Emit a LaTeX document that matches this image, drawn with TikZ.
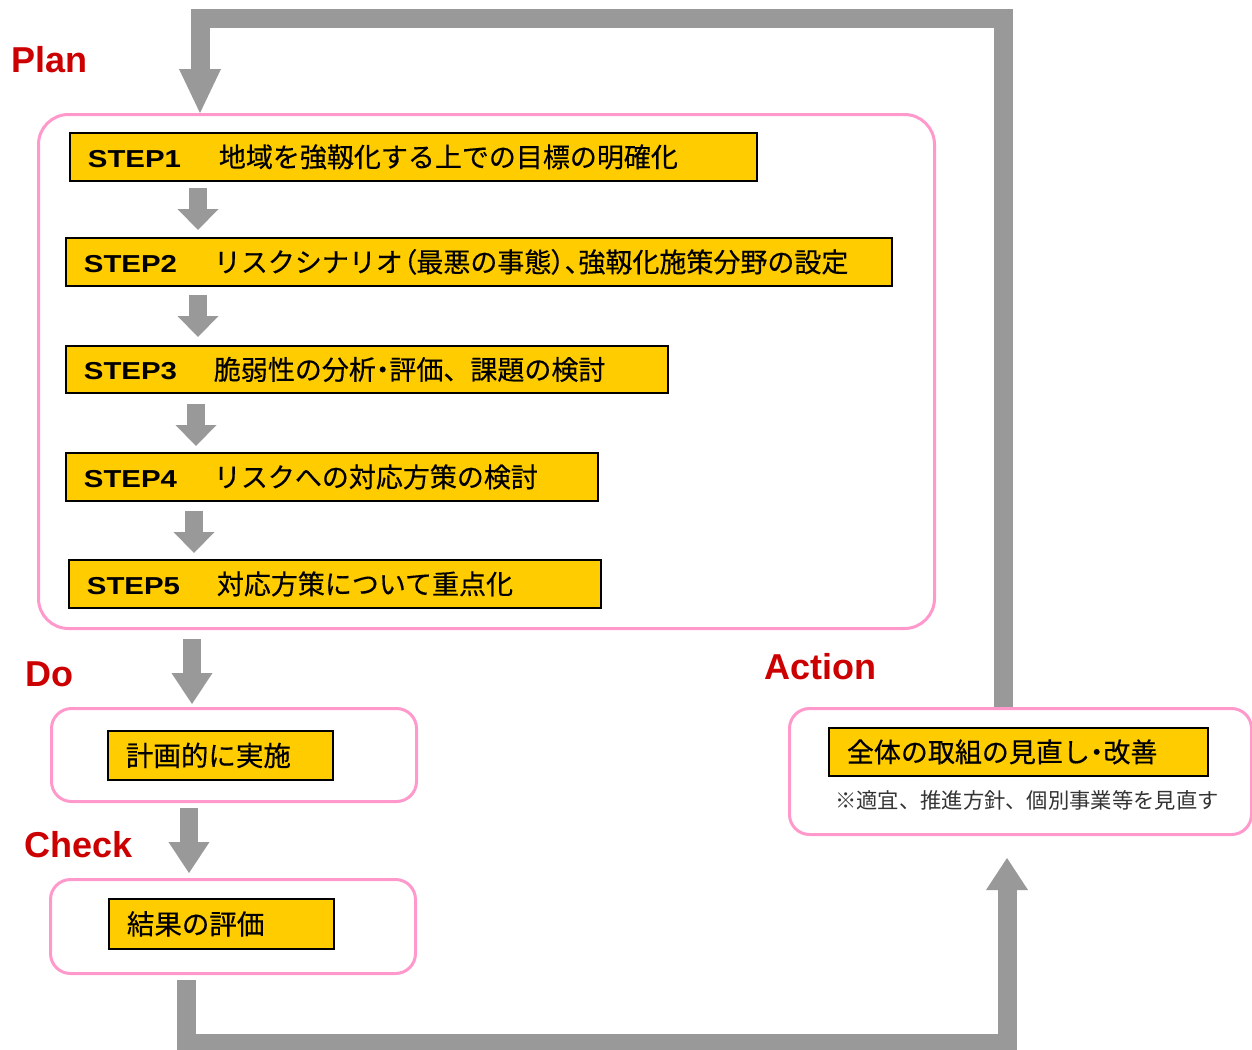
\documentclass[tikz,border=0pt]{standalone}
\usepackage{fontspec}
\setmainfont{Liberation Sans}
\newfontfamily\cjk[FakeBold=0.4]{Noto Sans CJK JP}
\newfontfamily\cjkplain{Noto Sans CJK JP}
\newfontfamily\cjkp[FakeBold=0.4,RawFeature=+palt]{Noto Sans CJK JP}
\newfontfamily\stepf[FakeStretch=1.2]{Liberation Sans}
\usetikzlibrary{arrows.meta}
\definecolor{arrowgray}{RGB}{153,153,153}
\definecolor{boxpink}{RGB}{255,153,204}
\definecolor{stepyellow}{RGB}{255,204,0}
\definecolor{labelred}{RGB}{204,0,0}
\newcommand{\steplbl}[2][130pt]{\makebox[#1][l]{\stepf\bfseries\fontsize{24.5}{28}\selectfont #2}}
\newcommand{\hw}[1]{{\cjkp #1}}
\begin{document}
\begin{tikzpicture}[x=1pt,y=-1pt,
  phase/.style={draw=boxpink, line width=3pt, rounded corners=20pt, anchor=north west, inner sep=0pt},
  stepbox/.style={draw=black, line width=1.8pt, fill=stepyellow, anchor=north west, inner xsep=18pt, inner ysep=0pt, minimum height=48pt, text width=#1, align=left, font=\cjk\fontsize{27}{30}\selectfont},
  phaselabel/.style={anchor=base west, text=labelred, font=\bfseries\fontsize{36}{40}\selectfont, inner sep=0pt},
  steparrow/.style={draw=arrowgray, line width=18pt, -{Triangle[width=41pt,length=21pt,line width=0pt]}},
  flowarrow/.style={draw=arrowgray, line width=18pt, -{Triangle[width=41pt,length=31pt,line width=0pt]}},
  looparrow/.style={draw=arrowgray, line width=19pt, line join=miter, -{Triangle[width=42pt,length=#1,line width=0pt]}},
]
\useasboundingbox (0,0) rectangle (1252,1049);

% phase frames
\node[phase, rounded corners=30pt, minimum width=896pt, minimum height=514pt] (plan) at (37,113) {};
\node[phase, minimum width=365pt, minimum height=93pt] (do) at (50,707) {};
\node[phase, minimum width=365pt, minimum height=94pt] (check) at (49,878) {};
\node[phase, minimum width=462pt, minimum height=126pt] (action) at (788,707) {};

% phase labels
\node[phaselabel] (lplan) at (11,73) {Plan};
\node[phaselabel] (ldo) at (25,686) {Do};
\node[phaselabel] (lcheck) at (24,857) {Check};
\node[phaselabel] (laction) at (764,679) {Action};

% steps
\node[stepbox=651pt] (s1) at (69,132) {\steplbl[131pt]{STEP1}地域を強靱化する上での目標の明確化};
\node[stepbox=790pt] (s2) at (65,237) {\steplbl{STEP2}リスクシナリオ\hw{（}最悪の事態\hw{）、}強靱化施策分野の設定};
\node[stepbox=566pt, minimum height=47pt] (s3) at (65,345) {\steplbl{STEP3}脆弱性の分析\hw{・}評価、課題の検討};
\node[stepbox=496pt] (s4) at (65,452) {\steplbl{STEP4}リスクへの対応方策の検討};
\node[stepbox=496pt] (s5) at (68,559) {\steplbl{STEP5}対応方策について重点化};

% do / check / action contents
\node[stepbox=189pt, minimum height=49pt, font=\cjk\fontsize{27.5}{30}\selectfont] (doin) at (107,730) {計画的に実施};
\node[stepbox=189pt, minimum height=50pt, font=\cjk\fontsize{27.5}{30}\selectfont] (checkin) at (108,898) {結果の評価};
\node[stepbox=343pt, font=\cjk\fontsize{27}{30}\selectfont] (actin) at (828,727) {全体の取組の見直し\hw{・}改善};
\node[anchor=west, inner sep=0pt, text=black!80, font=\cjkplain\fontsize{21.3}{24}\selectfont] (note) at (835,800) {※適宜、推進方針、個別事業等を見直す};

% arrow x positions
\coordinate (a1) at (198,0);
\coordinate (a2) at (198,0);
\coordinate (a3) at (196,0);
\coordinate (a4) at (194,0);
\coordinate (pdx) at (192,0);
\coordinate (dcx) at (189,0);
\coordinate (topline) at (200,18.5);
\coordinate (rx) at (1003,0);
\coordinate (botline) at (186,1043);
\coordinate (bx) at (1007,0);

% step arrows
\draw[steparrow, shorten <=6pt, shorten >=7pt] (s1.south -| a1) -- (s2.north -| a1);
\draw[steparrow, shorten <=8pt, shorten >=8pt] (s2.south -| a2) -- (s3.north -| a2);
\draw[steparrow, shorten <=10pt, shorten >=6pt] (s3.south -| a3) -- (s4.north -| a3);
\draw[steparrow, shorten <=9pt, shorten >=6pt] (s4.south -| a4) -- (s5.north -| a4);

% phase arrows
\draw[flowarrow, shorten <=9pt, shorten >=3pt] (plan.south -| pdx) -- (do.north -| pdx);
\draw[flowarrow, shorten <=5pt, shorten >=5pt] (do.south -| dcx) -- (check.north -| dcx);
\draw[looparrow=44pt] (action.north -| rx) |- (topline) -- (plan.north -| topline);
\draw[looparrow=32pt, shorten <=5pt, shorten >=22pt] (check.south -| botline) -- (botline) -- (bx |- botline) -- (action.south -| bx);
\end{tikzpicture}
\end{document}
